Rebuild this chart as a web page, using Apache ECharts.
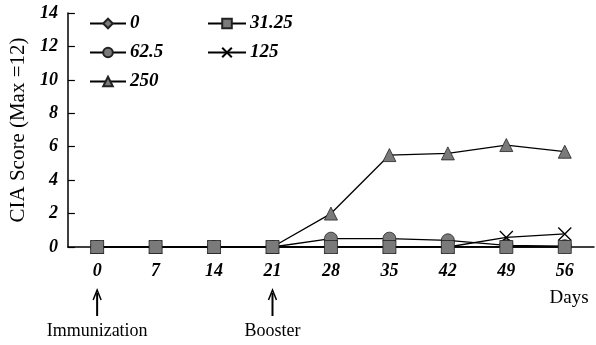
<!DOCTYPE html>
<html>
<head>
<meta charset="utf-8">
<script src="https://cdn.jsdelivr.net/npm/echarts@6/dist/echarts.min.js"></script>
<style>html,body{margin:0;padding:0;background:#fff}#c{width:596px;height:345px}</style>
</head>
<body>
<div id="c"></div>
<script>
const days = ['0','7','14','21','28','35','42','49','56'];
const dose0 = [0,0,0,0,0,0,0,0,0];
const dose31 = [0,0,0,0,0,0,0,0,0];
const dose62 = [0,0,0,0,0.5,0.5,0.4,0.1,0.05];
const dose125 = [0,0,0,0,0,0,0,0.57,0.78];
const dose250 = [0,0,0,0,2.0,5.5,5.6,6.1,5.7];
const yTicks = [0,2,4,6,8,10,12,14];
const seriesNames = ['0','31.25','62.5','125','250'];

const serif = 'Liberation Serif';
const grey = '#7a7a7a';
const xPath = 'path://M0,0L10,10M10,0L0,10';

function mk(name, data, symbol, size, z, extra) {
  return Object.assign({
    name, type: 'line', data, symbol, symbolSize: size, z,
    lineStyle: {color: '#000', width: 1.3},
    itemStyle: {color: grey, borderColor: '#222', borderWidth: 0.8},
    emphasis: {disabled: true}, animation: false
  }, extra || {});
}

const chart = echarts.init(document.getElementById('c'));
const legendText = {fontFamily: serif, fontStyle: 'italic', fontWeight: 'bold', fontSize: 19, color: '#000', padding: [0, 0, 0, -1]};
chart.setOption({
  animation: false,
  grid: {left: 67, right: 2, top: 13, bottom: 98},
  legend: [
    {data: [seriesNames[0], seriesNames[2], seriesNames[4]], orient: 'vertical', left: 89, top: 14,
     itemGap: 10, itemWidth: 36, itemHeight: 12, textStyle: legendText, padding: 0},
    {data: [seriesNames[1], seriesNames[3]], orient: 'vertical', left: 207, top: 14,
     itemGap: 10, itemWidth: 38, itemHeight: 12, textStyle: legendText, padding: 0}
  ],
  xAxis: {
    type: 'category', data: days, boundaryGap: true,
    axisLine: {lineStyle: {color: '#000', width: 1.5}},
    axisTick: {inside: true, length: 6, lineStyle: {color: '#000', width: 1.2}},
    axisLabel: {fontFamily: serif, fontStyle: 'italic', fontWeight: 'bold', fontSize: 18, color: '#000', margin: 15}
  },
  yAxis: {
    type: 'value', min: 0, max: 14, interval: 2,
    name: 'CIA Score (Max =12)', nameLocation: 'middle', nameRotate: 90, nameGap: 36,
    nameTextStyle: {fontFamily: serif, fontSize: 21, color: '#000'},
    axisLine: {show: true, lineStyle: {color: '#000', width: 1.5}},
    axisTick: {show: true, inside: true, length: 7, lineStyle: {color: '#000', width: 1.2}},
    splitLine: {show: false},
    axisLabel: {fontFamily: serif, fontStyle: 'italic', fontWeight: 'bold', fontSize: 18, color: '#000', margin: 10,
      formatter: v => yTicks.includes(v) ? String(v) : ''}
  },
  series: [
    mk(seriesNames[0], dose0, 'diamond', 13, 2),
    mk(seriesNames[2], dose62, 'circle', 13, 3),
    mk(seriesNames[3], dose125, xPath, 13, 4, {itemStyle: {color: 'none', borderColor: '#000', borderWidth: 1.3}}),
    mk(seriesNames[4], dose250, 'triangle', 13, 5),
    mk(seriesNames[1], dose31, 'rect', 13, 6)
  ]
});

function place() {
  const xi = chart.convertToPixel({xAxisIndex: 0}, '0');
  const xb = chart.convertToPixel({xAxisIndex: 0}, '21');
  const arrow = (x) => [
    {type: 'line', shape: {x1: x, y1: 293, x2: x, y2: 316}, style: {stroke: '#000', lineWidth: 2}},
    {type: 'polyline', shape: {points: [[x - 4, 300], [x, 290], [x + 4, 300]]}, style: {stroke: '#000', lineWidth: 1.5, fill: null}}
  ];
  chart.setOption({
    graphic: [].concat(arrow(xi), arrow(xb), [
      {type: 'text', x: xi, y: 331, style: {text: 'Immunization', font: '18px "Liberation Serif"', fill: '#000', align: 'center', verticalAlign: 'middle'}},
      {type: 'text', x: xb, y: 331, style: {text: 'Booster', font: '18px "Liberation Serif"', fill: '#000', align: 'center', verticalAlign: 'middle'}},
      {type: 'text', x: 569, y: 298, style: {text: 'Days', font: '19px "Liberation Serif"', fill: '#000', align: 'center', verticalAlign: 'middle'}}
    ])
  });
}
place();
</script>
</body>
</html>
